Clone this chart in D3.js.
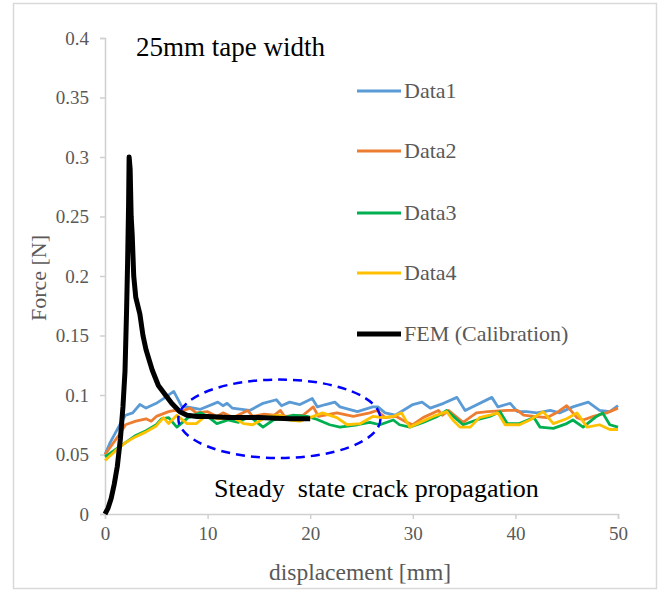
<!DOCTYPE html>
<html>
<head>
<meta charset="utf-8">
<script src="https://cdn.jsdelivr.net/npm/d3@7"></script>
<style>
  body { margin: 0; background: #fff; }
  text { font-family: "Liberation Serif", "Times New Roman", serif; }
</style>
</head>
<body>
<div id="chart"></div>
<script>
// measured series, [displacement mm, force N]
const data1 = [[0,0.050],[0.5,0.060],[1.5,0.076],[2,0.083],[2.7,0.085],[3.4,0.092],[4,0.089],[5,0.093],[5.7,0.097],[6.7,0.103],[7.5,0.090],[8,0.090],[9.3,0.088],[11,0.094],[11.5,0.091],[11.9,0.093],[12.4,0.089],[14.1,0.087],[15.4,0.093],[16.7,0.096],[17.2,0.091],[18,0.094],[19,0.092],[20.2,0.097],[20.7,0.090],[21.5,0.092],[22.4,0.094],[22.9,0.090],[24.6,0.086],[26.1,0.090],[26.6,0.090],[27.3,0.085],[28.3,0.083],[30,0.092],[30.9,0.094],[31.7,0.089],[33,0.093],[34.3,0.098],[35.1,0.087],[37.7,0.098],[38.3,0.090],[39.5,0.093],[40.2,0.086],[41.1,0.086],[42.1,0.085],[43.4,0.087],[44.3,0.085],[45.6,0.090],[47.1,0.094],[48.2,0.087],[49.2,0.086],[50,0.091]];
const data2 = [[0,0.050],[1,0.062],[1.5,0.068],[2,0.075],[3,0.078],[4,0.080],[4.5,0.078],[5,0.082],[6.2,0.086],[6.8,0.087],[7.3,0.086],[8.3,0.089],[8.9,0.085],[10,0.086],[10.9,0.082],[11.5,0.085],[12.5,0.081],[13.9,0.087],[14.4,0.082],[15.5,0.084],[16.5,0.083],[17.1,0.087],[17.5,0.082],[19.3,0.083],[20.3,0.090],[20.8,0.082],[22.6,0.085],[24.2,0.082],[25.8,0.085],[26.5,0.087],[27.3,0.081],[28.4,0.082],[29.4,0.077],[30,0.075],[31,0.081],[32.5,0.087],[32.9,0.083],[33.5,0.087],[34.9,0.077],[36.2,0.085],[37.3,0.086],[39.2,0.087],[40.2,0.087],[40.8,0.083],[41.8,0.082],[43.1,0.081],[44,0.085],[45,0.091],[46,0.081],[46.6,0.079],[47.6,0.082],[48.9,0.085],[50,0.089]];
const data3 = [[0,0.048],[1,0.054],[2,0.060],[3,0.066],[4,0.070],[5,0.075],[5.5,0.080],[6.2,0.081],[7,0.073],[8.1,0.081],[9.3,0.085],[10,0.082],[10.9,0.076],[12,0.079],[13,0.077],[14.1,0.082],[15.4,0.073],[16.4,0.079],[17,0.080],[18.3,0.083],[19.7,0.082],[20.5,0.080],[21.9,0.075],[22.9,0.073],[24.6,0.075],[25.8,0.077],[26.8,0.075],[28.1,0.079],[28.7,0.075],[29.7,0.073],[31,0.077],[32.4,0.082],[33.3,0.087],[34.1,0.081],[34.9,0.075],[36.2,0.079],[37.5,0.082],[38.5,0.086],[39.2,0.076],[40.4,0.076],[41.8,0.081],[42.4,0.073],[43.7,0.072],[45,0.076],[45.6,0.079],[46.6,0.073],[47.9,0.082],[48.5,0.085],[49.2,0.075],[50,0.073]];
const data4 = [[0,0.045],[1,0.053],[2,0.060],[3,0.065],[4,0.069],[5,0.074],[5.7,0.081],[6.2,0.076],[7,0.083],[8,0.076],[8.9,0.076],[9.9,0.083],[11,0.080],[12.5,0.081],[13.5,0.076],[14.4,0.075],[15.8,0.082],[17.1,0.083],[18,0.079],[19,0.078],[20.3,0.082],[21.2,0.085],[22.6,0.081],[23.6,0.075],[24.9,0.076],[26.1,0.082],[27.1,0.081],[28.1,0.082],[28.9,0.085],[29.7,0.073],[30.7,0.077],[32,0.082],[33.3,0.086],[33.9,0.079],[34.6,0.073],[35.6,0.073],[36.5,0.081],[37.5,0.083],[38.3,0.085],[39,0.075],[40.4,0.075],[41.4,0.079],[42.7,0.086],[43.7,0.076],[45,0.080],[46,0.085],[47,0.073],[48.2,0.075],[49.2,0.071],[50,0.071]];
const fem = [[0,0],[0.3,0.005],[0.6,0.013],[0.9,0.025],[1.2,0.040],[1.5,0.063],[1.75,0.090],[1.95,0.120],[2.1,0.170],[2.2,0.210],[2.3,0.260],[2.35,0.300],[2.45,0.290],[2.55,0.250],[2.65,0.235],[2.8,0.200],[3.0,0.182],[3.4,0.168],[3.7,0.150],[4.0,0.138],[4.6,0.121],[5.2,0.108],[5.8,0.101],[6.5,0.093],[7.3,0.086],[8,0.083],[9,0.082],[10,0.082],[12,0.081],[15,0.081],[18,0.080],[20,0.080]];

const seriesNames = ["Data1", "Data2", "Data3", "Data4", "FEM (Calibration)"];
const seriesColors = ["#5B9BD5", "#ED7D31", "#00B050", "#FFC000", "#000000"];
const xTicks = [0, 10, 20, 30, 40, 50];
const yTicks = [0, 0.05, 0.1, 0.15, 0.2, 0.25, 0.3, 0.35, 0.4];
// dashed ellipse marking steady state: centre and radii in data units
const steadyCenter = [17, 0.080];
const steadyRadius = [9.85, 0.033];

const width = 659, height = 590;
const margin = {top: 38, right: 41, bottom: 76, left: 105};

const svg = d3.select("#chart").append("svg")
  .attr("width", width)
  .attr("height", height);

// outer chart frame
svg.append("rect")
  .attr("x", 13.5).attr("y", 3.5)
  .attr("width", 643).attr("height", 585)
  .attr("fill", "none")
  .attr("stroke", "#d9d9d9")
  .attr("stroke-width", 1.5);

const x = d3.scaleLinear().domain([0, 50]).range([margin.left, width - margin.right]);
const y = d3.scaleLinear().domain([0, 0.4]).range([height - margin.bottom, margin.top]);

// axes
const xAxis = svg.append("g")
  .attr("transform", `translate(0,${y(0)})`)
  .call(d3.axisBottom(x).tickValues(xTicks).tickSize(5).tickPadding(8).tickFormat(d3.format("d")));
const yAxis = svg.append("g")
  .attr("transform", `translate(${x(0)},0)`)
  .call(d3.axisLeft(y).tickValues(yTicks).tickSize(5).tickPadding(11).tickFormat(d => d === 0 ? "0" : String(+d.toFixed(2))));

[xAxis, yAxis].forEach(g => {
  g.select(".domain").attr("stroke", "#d0d0d0").attr("stroke-width", 1.5);
  g.selectAll(".tick line").attr("stroke", "#d0d0d0").attr("stroke-width", 1.5);
  g.selectAll(".tick text")
    .attr("fill", "#595959")
    .style("font-size", "19px")
    .style("font-family", "'Liberation Serif', serif");
});

// axis titles
svg.append("text")
  .attr("x", 360).attr("y", 580)
  .attr("text-anchor", "middle")
  .attr("fill", "#595959")
  .style("font-size", "23.5px")
  .text("displacement [mm]");

svg.append("text")
  .attr("transform", "translate(46,278) rotate(-90)")
  .attr("text-anchor", "middle")
  .attr("fill", "#595959")
  .style("font-size", "22px")
  .text("Force [N]");

// lines
const line = d3.line().x(d => x(d[0])).y(d => y(d[1]));
const allSeries = [data1, data2, data3, data4];

svg.selectAll(".series")
  .data(allSeries)
  .join("path")
    .attr("class", "series")
    .attr("d", line)
    .attr("fill", "none")
    .attr("stroke", (d, i) => seriesColors[i])
    .attr("stroke-width", 2.8)
    .attr("stroke-linejoin", "round");

svg.append("path")
  .datum(fem)
  .attr("d", line)
  .attr("fill", "none")
  .attr("stroke", "#000")
  .attr("stroke-width", 5)
  .attr("stroke-linejoin", "round");

// steady state ellipse
svg.append("ellipse")
  .attr("cx", x(steadyCenter[0]))
  .attr("cy", y(steadyCenter[1]))
  .attr("rx", x(steadyRadius[0]) - x(0))
  .attr("ry", y(0) - y(steadyRadius[1]))
  .attr("fill", "none")
  .attr("stroke", "#0000FF")
  .attr("stroke-width", 2.5)
  .attr("stroke-dasharray", "9,6");

// annotations
svg.append("text")
  .attr("x", 136).attr("y", 56)
  .attr("fill", "#000")
  .style("font-size", "27px")
  .text("25mm tape width");

svg.append("text")
  .attr("x", 214).attr("y", 497)
  .attr("fill", "#000")
  .style("font-size", "26px")
  .attr("xml:space", "preserve")
  .text("Steady  state crack propagation");

// legend
const legendY = [91, 151, 213, 273, 334];
const legend = svg.selectAll(".legend")
  .data(seriesNames)
  .join("g")
    .attr("class", "legend")
    .attr("transform", (d, i) => `translate(357,${legendY[i]})`);

legend.append("line")
  .attr("x1", 0).attr("x2", 44)
  .attr("stroke", (d, i) => seriesColors[i])
  .attr("stroke-width", (d, i) => i === 4 ? 5 : 2.8);

legend.append("text")
  .attr("x", 47).attr("y", 7)
  .attr("fill", "#595959")
  .style("font-size", "22px")
  .text(d => d);
</script>
</body>
</html>
